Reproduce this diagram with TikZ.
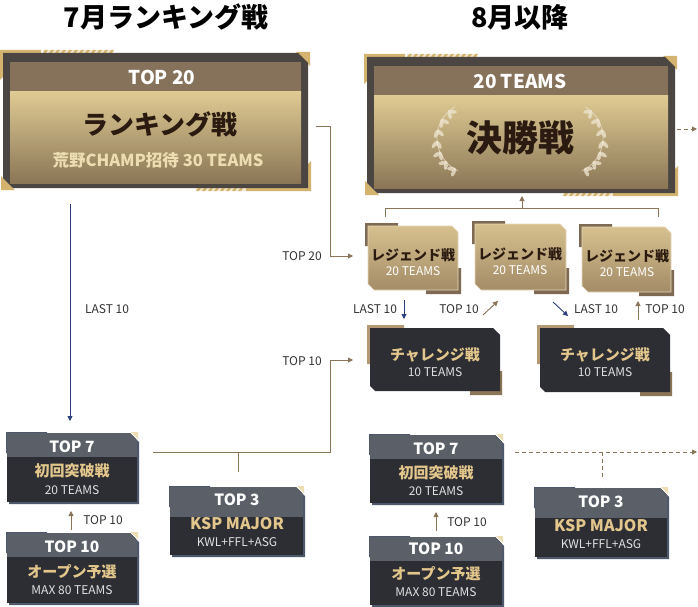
\documentclass[tikz,border=0pt]{standalone}
\usepackage{fontspec}
\setmainfont{Noto Sans CJK JP}
\usetikzlibrary{arrows.meta,calc}
\definecolor{brn}{HTML}{8A7558}
\definecolor{navy}{HTML}{2B3F7C}
\definecolor{txtc}{HTML}{333333}
\definecolor{bandc}{HTML}{86725A}
\definecolor{goldT}{HTML}{DFCA93}
\definecolor{goldB}{HTML}{8A7656}
\definecolor{framec}{HTML}{4B4641}
\definecolor{cgold}{HTML}{D4B36E}
\definecolor{hatchc}{HTML}{F2E7CC}
\definecolor{darkc}{HTML}{2D2E33}
\definecolor{grayband}{HTML}{5B5F68}
\definecolor{goldtxt}{HTML}{E2C68C}
\definecolor{cream}{HTML}{EDDDB3}
\definecolor{edgeblue}{HTML}{4E586C}
\definecolor{lgT}{HTML}{D7C08E}
\definecolor{lgB}{HTML}{A38C67}
\definecolor{lgEdge}{HTML}{7E6A52}
\definecolor{chTL}{HTML}{B49A74}
\definecolor{chBR}{HTML}{8B7557}
\definecolor{darkbrown}{HTML}{2B1A10}
\definecolor{laurelc}{HTML}{EFE6D2}

\newcommand{\BigFrame}[4]{%
 \begin{scope}[shift={(#1,#2)}]
  \def\W{#3}\def\H{#4}
  % top hatch
  \fill[hatchc] (40,-3) rectangle (110,0);
  \foreach \i in {0,...,11} {\fill[cgold] ({42+\i*6},-3) -- ({45+\i*6},-3) -- ({43+\i*6},0) -- ({40+\i*6},0) -- cycle;}
  % bottom hatch
  \fill[hatchc] (\W-112,\H) rectangle (\W-62,\H+3);
  \foreach \i in {0,...,7} {\fill[cgold] ({\W-110+\i*6},\H) -- ({\W-107+\i*6},\H) -- ({\W-109+\i*6},\H+3) -- ({\W-112+\i*6},\H+3) -- cycle;}
  % gold corners
  \fill[cgold] (-3,-3) -- (38,-3) -- (38,0) -- (0,0) -- (0,24) -- (-3,27) -- cycle;
  \fill[cgold] (\W+3,\H+3) -- (\W-62,\H+3) -- (\W-62,\H) -- (\W,\H) -- (\W,\H-24) -- (\W+3,\H-27) -- cycle;
  \fill[cgold] (\W-12,-1) -- (\W+2,-1) -- (\W+2,13) -- cycle;
  \fill[cgold] (-2,\H-12) -- (-2,\H+2) -- (12,\H+2) -- cycle;
  % frame
  \fill[framec] (0,0) -- (\W-10,0) -- (\W,10) -- (\W,\H) -- (10,\H) -- (0,\H-10) -- cycle;
  \fill[bandc] (7,9) rectangle (\W-7,39);
  \shade[top color=goldT, bottom color=goldB] (7,39) rectangle (\W-7,\H-5);
 \end{scope}}

\newcommand{\LegBox}[4]{%
 \begin{scope}[shift={(#1,#2)}]
  \def\W{#3}\def\H{#4}
  \fill[lgEdge] (-3,-3) -- (30,-3) -- (30,0) -- (0,0) -- (0,20) -- (-3,20) -- cycle;
  \fill[lgEdge] (\W+3,\H+4) -- (\W-32,\H+4) -- (\W-32,\H) -- (\W,\H) -- (\W,\H-22) -- (\W+3,\H-22) -- cycle;
  \shadedraw[top color=lgT, bottom color=lgB, draw=lgT!60!white, line width=0.6pt] (0,0) -- (\W-6,0) -- (\W,6) -- (\W,\H) -- (6,\H) -- (0,\H-6) -- cycle;
 \end{scope}}

\newcommand{\ChBox}[4]{%
 \begin{scope}[shift={(#1,#2)}]
  \def\W{#3}\def\H{#4}
  \fill[chTL] (-3,-3) -- (34,-3) -- (34,0) -- (0,0) -- (0,36) -- (-3,36) -- cycle;
  \fill[chBR] (\W+2,\H+4) -- (\W-30,\H+4) -- (\W-30,\H) -- (\W,\H) -- (\W,\H-20) -- (\W+2,\H-20) -- cycle;
  \fill[darkc] (0,0) -- (\W-7,0) -- (\W,7) -- (\W,\H) -- (5,\H) -- (0,\H-5) -- cycle;
 \end{scope}}

\newcommand{\DkBox}[5]{%
 \begin{scope}[shift={(#1,#2)}]
  \def\W{#3}\def\H{#4}
  \fill[edgeblue] (2,2) -- (\W-5,2) -- (\W+2,9) -- (\W+2,\H+2) -- (2,\H+2) -- cycle;
  \fill[edgeblue] (-1,-1) -- (40,-1) -- (40,0) -- (0,0) -- (0,20) -- (-1,20) -- cycle;
  \begin{scope}
   \clip (0,0) -- (\W-7,0) -- (\W,7) -- (\W,\H) -- (0,\H) -- cycle;
   \fill[darkc] (0,0) rectangle (\W,\H);
   \fill[grayband] (0,0) rectangle (\W,#5);
  \end{scope}
  \fill[cream] (\W-6,-1) -- (\W+1,-1) -- (\W+1,6) -- cycle;
 \end{scope}}

\newcommand{\Laurel}[3]{% cx cy dir(1 left,-1 right)
 \begin{scope}[shift={(#1,#2)}, xscale=#3]
  \draw[laurelc, line width=0.8pt, opacity=0.7] (115:36) arc[start angle=115, end angle=240, radius=36];
  \foreach \a in {120,138,156,174,192,210,228} {
    \fill[laurelc, opacity=0.75, shift={(\a:36)}, rotate=\a+125] (3.5,0) ellipse (4.5 and 2);
    \fill[laurelc, opacity=0.75, shift={(\a:36)}, rotate=\a+55] (3.5,0) ellipse (4.5 and 2);
  }
 \end{scope}}

\tikzset{
  conn/.style={draw=brn, line width=0.9pt},
  tip/.style={-{Triangle[length=5pt,width=5pt]}},
  navyc/.style={draw=navy, line width=0.9pt},
  ttl/.style={font=\fontsize{27}{27}\selectfont\bfseries, text=black, inner sep=0pt},
  bandtxt/.style={font=\fontsize{19}{19}\selectfont\bfseries, text=white, inner sep=0pt},
  bigname/.style={font=\fontsize{26}{26}\selectfont\bfseries, text=darkbrown, inner sep=0pt},
  bigsub/.style={font=\fontsize{16.5}{16.5}\selectfont\bfseries, text=cream, inner sep=0pt},
  finalname/.style={font=\fontsize{36}{36}\selectfont\bfseries, text=darkbrown, inner sep=0pt},
  legname/.style={font=\fontsize{14}{14}\selectfont\bfseries, text=darkbrown, inner sep=0pt},
  legsub/.style={font=\fontsize{12}{12}\selectfont, text=white, inner sep=0pt},
  chname/.style={font=\fontsize{15}{15}\selectfont\bfseries, text=goldtxt, inner sep=0pt},
  chsub/.style={font=\fontsize{12}{12}\selectfont, text=white!88!black, inner sep=0pt},
  dkhead/.style={font=\fontsize{15.5}{15.5}\selectfont\bfseries, text=white, inner sep=0pt},
  lbl/.style={font=\fontsize{12}{12}\selectfont, text=txtc, inner sep=0pt},
}

\begin{document}
\begin{tikzpicture}[x=1pt,y=-1pt]
\fill[white] (0,0) rectangle (698,607);
\useasboundingbox (0,0) rectangle (698,607);

% titles
\node[ttl] (t1) at (166,17) {7月ランキング戦};
\node[ttl] (t2) at (520,17) {8月以降};

% big boxes
\BigFrame{3}{53}{305}{135}
\BigFrame{367}{57}{308}{136}
\Laurel{473}{138}{1}
\Laurel{567}{138}{-1}

\node[bandtxt] (rkTop) at (162,77) {TOP 20};
\node[bigname] (rkName) at (160,124) {ランキング戦};
\node[bigsub] (rkSub) at (158,160) {荒野CHAMP招待 30 TEAMS};

\node[bandtxt] (fnTop) at (520,81) {20 TEAMS};
\node[finalname] (fnName) at (520,138) {決勝戦};

% legend boxes
\LegBox{368}{226}{90}{64}
\LegBox{475}{224}{91}{66}
\LegBox{582}{227}{89}{65}
\node[legname] (lg1) at (413,255) {レジェンド戦};
\node[legsub] (lg1s) at (413,271) {20 TEAMS};
\node[legname] (lg2) at (520,254) {レジェンド戦};
\node[legsub] (lg2s) at (520,270) {20 TEAMS};
\node[legname] (lg3) at (627,256) {レジェンド戦};
\node[legsub] (lg3s) at (627,272) {20 TEAMS};

% challenge boxes
\ChBox{370}{328}{130}{63}
\ChBox{540}{328}{130}{64}
\node[chname] (ch1) at (435,355) {チャレンジ戦};
\node[chsub] (ch1s) at (435,372) {10 TEAMS};
\node[chname] (ch2) at (605,355) {チャレンジ戦};
\node[chsub] (ch2s) at (605,372) {10 TEAMS};

% dark boxes left
\DkBox{7}{433}{130}{69}{24}
\DkBox{7}{533}{130}{70}{24}
\DkBox{170}{487}{133}{68}{30}
\node[dkhead] (l7h) at (72,447) {TOP 7};
\node[chname] (l7n) at (72,471) {初回突破戦};
\node[chsub] (l7s) at (72,490) {20 TEAMS};
\node[dkhead] (l10h) at (72,547) {TOP 10};
\node[chname] (l10n) at (72,572) {オープン予選};
\node[chsub] (l10s) at (72,590) {MAX 80 TEAMS};
\node[dkhead] (l3h) at (237,500) {TOP 3};
\node[chname, font=\fontsize{16}{16}\selectfont\bfseries] (l3n) at (237,524) {KSP MAJOR};
\node[chsub] (l3s) at (237,542) {KWL+FFL+ASG};

% dark boxes right
\DkBox{370}{435}{132}{68}{24}
\DkBox{370}{537}{132}{68}{24}
\DkBox{535}{488}{132}{69}{30}
\node[dkhead] (r7h) at (436,449) {TOP 7};
\node[chname] (r7n) at (436,473) {初回突破戦};
\node[chsub] (r7s) at (436,491) {20 TEAMS};
\node[dkhead] (r10h) at (436,549) {TOP 10};
\node[chname] (r10n) at (436,574) {オープン予選};
\node[chsub] (r10s) at (436,592) {MAX 80 TEAMS};
\node[dkhead] (r3h) at (601,502) {TOP 3};
\node[chname, font=\fontsize{16}{16}\selectfont\bfseries] (r3n) at (601,526) {KSP MAJOR};
\node[chsub] (r3s) at (601,544) {KWL+FFL+ASG};

% coordinates
\coordinate (rkOut) at (316,126);
\coordinate (bendA) at (330,126);
\coordinate (lgIn) at (353,256);
\coordinate (t7Out) at (153,452);
\coordinate (bendB) at (330,452);
\coordinate (chIn) at (353,360);
\coordinate (kspJ) at (238,452);
\coordinate (kspT) at (238,472);
\coordinate (nvTop) at (70,204);
\coordinate (nvBot) at (70,421);
\coordinate (o10L) at (71,530);
\coordinate (t7L) at (71,511);
\coordinate (o10R) at (436,531);
\coordinate (t7R) at (436,512);
\coordinate (brL) at (385,217);
\coordinate (brLt) at (385,208);
\coordinate (brR) at (658,217);
\coordinate (brRt) at (658,208);
\coordinate (brM) at (522,208);
\coordinate (fnBot) at (522,196);
\coordinate (fnOut) at (677,129);
\coordinate (fnEnd) at (697,129);
\coordinate (dashS) at (515,452);
\coordinate (dashE) at (697,452);
\coordinate (dashJ) at (602,452);
\coordinate (dashK) at (602,480);
\coordinate (a1s) at (404,300);
\coordinate (a1e) at (404,319);
\coordinate (a2s) at (483,315);
\coordinate (a2e) at (498,301);
\coordinate (a3s) at (553,302);
\coordinate (a3e) at (568,316);
\coordinate (a4s) at (638,320);
\coordinate (a4e) at (638,301);

% connectors
\draw[conn, tip] (rkOut) -- (bendA) |- (lgIn);
\draw[conn, tip] (t7Out) -- (bendB) |- (chIn);
\draw[conn] (kspJ) -- (kspT);
\draw[navyc, tip] (nvTop) -- (nvBot);
\draw[conn, tip] (o10L) -- (t7L);
\draw[conn, tip] (o10R) -- (t7R);
\draw[conn] (brL) -- (brLt) -- (brRt) -- (brR);
\draw[conn, tip] (brM) -- (fnBot);
\draw[conn, tip, dash pattern=on 4pt off 3pt] (fnOut) -- (fnEnd);
\draw[conn, tip, dash pattern=on 4pt off 3pt] (dashS) -- (dashE);
\draw[conn, dash pattern=on 4pt off 3pt] (dashJ) -- (dashK);
\draw[navyc, tip] (a1s) -- (a1e);
\draw[conn, tip] (a2s) -- (a2e);
\draw[navyc, tip] (a3s) -- (a3e);
\draw[conn, tip] (a4s) -- (a4e);

% labels
\node[lbl] (lbTop20) at (302,256) {TOP 20};
\node[lbl] (lbTop10) at (302,361) {TOP 10};
\node[lbl] (lbLast) at (107,309) {LAST 10};
\node[lbl] (lbL1) at (375,309) {LAST 10};
\node[lbl] (lbT1) at (459,309) {TOP 10};
\node[lbl] (lbL2) at (596,309) {LAST 10};
\node[lbl] (lbT2) at (665,309) {TOP 10};
\node[lbl] (lbO10L) at (103,520) {TOP 10};
\node[lbl] (lbO10R) at (467,522) {TOP 10};
\end{tikzpicture}
\end{document}
